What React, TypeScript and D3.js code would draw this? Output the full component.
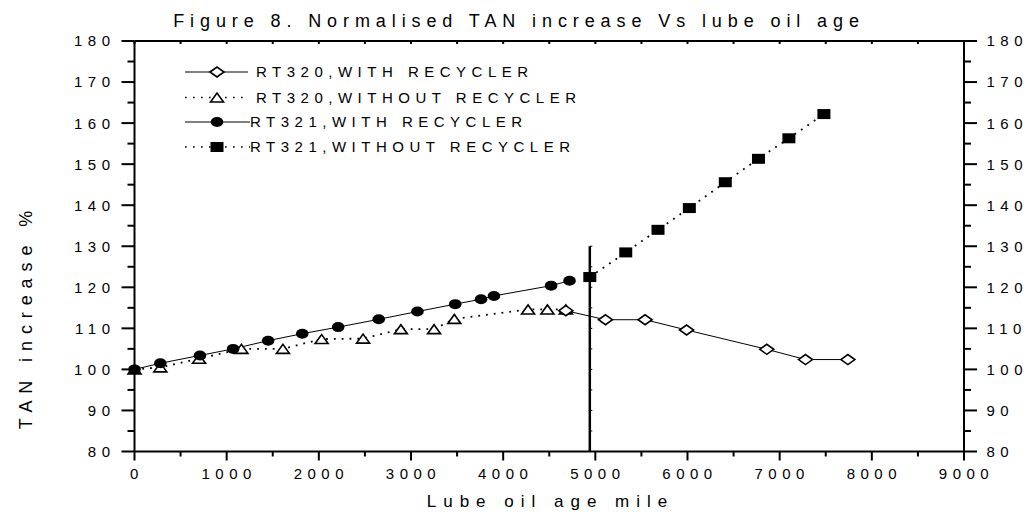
import React from "react";
import * as d3 from "d3";

// ---- data ----
const rt320WithX = [4680, 5110, 5540, 5990, 6860, 7280, 7740];
const rt320WithY = [114.3, 112.1, 112.1, 109.6, 104.9, 102.4, 102.4];

const rt320WithoutX = [0, 280, 700, 1160, 1610, 2030, 2480, 2890, 3250, 3470, 4270, 4480, 4680];
const rt320WithoutY = [100, 100.5, 102.6, 105.0, 105.0, 107.4, 107.5, 109.8, 109.8, 112.3, 114.6, 114.6, 114.6];

const rt321WithX = [0, 280, 710, 1070, 1450, 1820, 2210, 2650, 3070, 3480, 3760, 3900, 4520, 4720];
const rt321WithY = [100, 101.5, 103.4, 105.0, 107.0, 108.7, 110.3, 112.2, 114.1, 115.9, 117.1, 117.9, 120.4, 121.6];

const rt321WithoutX = [4940, 5330, 5680, 6020, 6410, 6770, 7100, 7480];
const rt321WithoutY = [122.5, 128.5, 134.0, 139.3, 145.6, 151.3, 156.3, 162.2];

const markerLineX = 4940;
const markerLineY = [80, 130];

const xTicks = [0, 1000, 2000, 3000, 4000, 5000, 6000, 7000, 8000, 9000];
const yTicks = [80, 90, 100, 110, 120, 130, 140, 150, 160, 170, 180];

const legendLabels = [
  "RT320,WITH RECYCLER",
  "RT320,WITHOUT RECYCLER",
  "RT321,WITH RECYCLER",
  "RT321,WITHOUT RECYCLER",
];

const title = "Figure 8. Normalised TAN increase Vs lube oil age";
const xTitle = "Lube oil age mile";
const yTitle = "TAN increase %";

// ---- layout ----
const W = 1027;
const H = 517;
const left = 134.5;
const right = 964;
const top = 41;
const bottom = 451.5;
const FONT = "'Liberation Sans', Arial, sans-serif";

type Shape = "diamond" | "triangle" | "circle" | "square";

function Marker({ shape, x, y }: { shape: Shape; x: number; y: number }) {
  if (shape === "circle") return <ellipse cx={x} cy={y} rx={6.3} ry={5} fill="#000" />;
  if (shape === "square") return <rect x={x - 6.5} y={y - 5} width={13} height={10} fill="#000" />;
  if (shape === "diamond")
    return (
      <path
        d={`M${x - 7},${y}L${x},${y - 5}L${x + 7},${y}L${x},${y + 5}Z`}
        fill="#fff"
        stroke="#000"
        strokeWidth={1.6}
      />
    );
  return (
    <path
      d={`M${x - 6.5},${y + 4.5}L${x},${y - 4.5}L${x + 6.5},${y + 4.5}Z`}
      fill="#fff"
      stroke="#000"
      strokeWidth={1.6}
    />
  );
}

export default function App() {
  const x = d3.scaleLinear().domain([0, 9000]).range([left, right]);
  const y = d3.scaleLinear().domain([80, 180]).range([bottom, top]);
  const line = d3
    .line<[number, number]>()
    .x((d) => x(d[0]))
    .y((d) => y(d[1]));

  const zip = (xs: number[], ys: number[]) => xs.map((v, i) => [v, ys[i]] as [number, number]);

  const series: { xs: number[]; ys: number[]; shape: Shape; dotted: boolean }[] = [
    { xs: rt320WithoutX, ys: rt320WithoutY, shape: "triangle", dotted: true },
    { xs: rt321WithX, ys: rt321WithY, shape: "circle", dotted: false },
    { xs: rt320WithX, ys: rt320WithY, shape: "diamond", dotted: false },
    { xs: rt321WithoutX, ys: rt321WithoutY, shape: "square", dotted: true },
  ];
  const legendShapes: Shape[] = ["diamond", "triangle", "circle", "square"];
  const legendDotted = [false, true, false, true];
  const legendRows = [72, 97.5, 122, 147];
  const legendTextX = [256, 256, 250, 250];

  const xMinor = d3.range(0, 9001, 500);
  const yMinor = d3.range(80, 181, 5);
  const vTicks = d3.range(markerLineY[0], markerLineY[1] + 0.1, 5);

  const tickStyle = { fontFamily: FONT, fontSize: 15, letterSpacing: 5.5 } as React.CSSProperties;

  return (
    <svg
      width={W}
      height={H}
      style={{ position: "absolute", left: 0, top: 0, background: "#fff" }}
    >
      <rect width={W} height={H} fill="#fff" />
      {/* title */}
      <text
        x={516 + 3}
        y={27}
        textAnchor="middle"
        style={{ fontFamily: FONT, fontSize: 18, letterSpacing: 5.9 }}
      >
        {title}
      </text>

      {/* axes frame */}
      <g stroke="#000" strokeWidth={2} fill="none">
        <line x1={left} x2={right} y1={bottom} y2={bottom} />
        <line x1={left} x2={right} y1={top} y2={top} />
        <line x1={left} x2={left} y1={top} y2={bottom} />
        <line x1={right} x2={right} y1={top} y2={bottom} />
      </g>

      {/* ticks */}
      <g stroke="#000" strokeWidth={2}>
        {xMinor.map((v) => {
          const major = v % 1000 === 0;
          return (
            <g key={"xt" + v}>
              <line x1={x(v)} x2={x(v)} y1={bottom} y2={bottom + (major ? 9 : 5)} />
              <line x1={x(v)} x2={x(v)} y1={top} y2={top + 3} />
            </g>
          );
        })}
        {yMinor.map((v) => {
          const major = v % 10 === 0;
          return (
            <g key={"yt" + v}>
              <line x1={left} x2={left - (major ? 13 : 7)} y1={y(v)} y2={y(v)} />
              <line x1={right} x2={right + (major ? 13 : 7)} y1={y(v)} y2={y(v)} />
            </g>
          );
        })}
      </g>

      {/* tick labels */}
      {xTicks.map((v) => (
        <text key={"xl" + v} x={x(v) + 2.5} y={478.5} textAnchor="middle" style={tickStyle}>
          {v}
        </text>
      ))}
      {yTicks.map((v) => (
        <text key={"yl" + v} x={115.5} y={y(v)} dy="0.36em" textAnchor="end" style={tickStyle}>
          {v}
        </text>
      ))}
      {yTicks.map((v) => (
        <text key={"yr" + v} x={986.5} y={y(v)} dy="0.36em" textAnchor="start" style={tickStyle}>
          {v}
        </text>
      ))}

      {/* axis titles */}
      <text
        x={547 + 3.5}
        y={507}
        textAnchor="middle"
        style={{ fontFamily: FONT, fontSize: 17, letterSpacing: 7 }}
      >
        {xTitle}
      </text>
      <text
        transform={`translate(32,${313 + 3.5}) rotate(-90)`}
        textAnchor="middle"
        style={{ fontFamily: FONT, fontSize: 18, letterSpacing: 6.9 }}
      >
        {yTitle}
      </text>

      {/* vertical marker line */}
      <g stroke="#000">
        <line
          x1={x(markerLineX)}
          x2={x(markerLineX)}
          y1={y(markerLineY[0])}
          y2={y(markerLineY[1])}
          strokeWidth={2.5}
        />
        {vTicks.map((v) => (
          <line
            key={"vt" + v}
            x1={x(markerLineX)}
            x2={x(markerLineX) + 2.5}
            y1={y(v)}
            y2={y(v)}
            strokeWidth={1}
          />
        ))}
      </g>

      {/* series lines */}
      {series.map((s, i) => (
        <path
          key={"ln" + i}
          d={line(zip(s.xs, s.ys)) || ""}
          fill="none"
          stroke="#000"
          strokeWidth={s.dotted ? 1.8 : 1}
          strokeDasharray={s.dotted ? "1.8,6" : undefined}
        />
      ))}
      {/* markers */}
      {series.map((s, i) => (
        <g key={"mk" + i}>
          {zip(s.xs, s.ys).map((d, j) => (
            <Marker key={j} shape={s.shape} x={x(d[0])} y={y(d[1])} />
          ))}
        </g>
      ))}

      {/* legend */}
      {legendLabels.map((lab, i) => (
        <g key={"lg" + i}>
          <line
            x1={185}
            x2={legendTextX[i] === 256 ? 248 : 250}
            y1={legendRows[i]}
            y2={legendRows[i]}
            stroke="#000"
            strokeWidth={legendDotted[i] ? 1.6 : 1}
            strokeDasharray={legendDotted[i] ? "1.6,6.4" : undefined}
          />
          <Marker shape={legendShapes[i]} x={217} y={legendRows[i]} />
          <text
            x={legendTextX[i]}
            y={legendRows[i]}
            dy="0.36em"
            style={{ fontFamily: FONT, fontSize: 15, letterSpacing: 5.5 }}
          >
            {lab}
          </text>
        </g>
      ))}
    </svg>
  );
}
